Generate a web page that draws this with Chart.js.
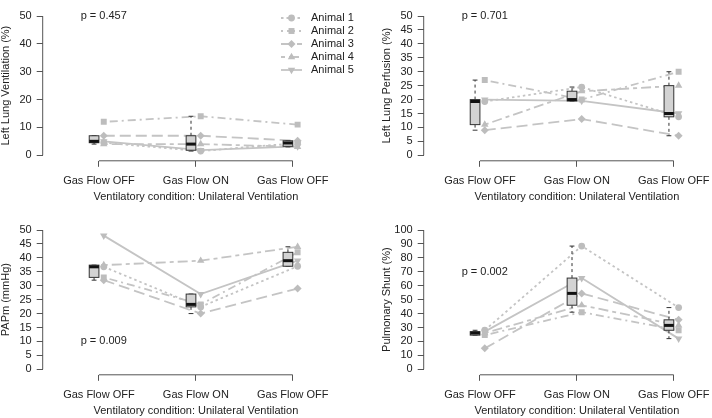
<!DOCTYPE html>
<html>
<head>
<meta charset="utf-8">
<script src="https://cdn.jsdelivr.net/npm/chart.js@4.4.0/dist/chart.umd.min.js"></script>
<style>
  html, body { margin: 0; padding: 0; background: #fff; }
  #wrap { position: relative; width: 712px; height: 418px; overflow: hidden; }
  .panel { position: absolute; width: 370px; height: 214px; }
</style>
</head>
<body>
<div id="wrap">
  <div class="panel" style="left:0;top:0"><canvas id="c1" width="370" height="214"></canvas></div>
  <div class="panel" style="left:381px;top:0"><canvas id="c2" width="370" height="214"></canvas></div>
  <div class="panel" style="left:0;top:214px"><canvas id="c3" width="370" height="214"></canvas></div>
  <div class="panel" style="left:381px;top:214px"><canvas id="c4" width="370" height="214"></canvas></div>
</div>
<script>
// conditions on the x axis and the animals (one line each)
const categories = ['Gas Flow OFF', 'Gas Flow ON', 'Gas Flow OFF'];
const animals = ['Animal 1', 'Animal 2', 'Animal 3', 'Animal 4', 'Animal 5'];

// one row per animal, one value per condition
const ventilation = [[4.5, 1.5, 4.4], [12, 14, 11], [7, 7, 5.2], [4, 4, 3], [5, 1.8, 3.2]];
const perfusion = [[19.3, 24.5, 13.8], [27, 20, 30], [9, 13, 7], [11, 23, 25], [20, 19.5, 15]];
const papm = [[36.8, 22.4, 37], [33, 23.3, 42], [32, 20, 29], [37.4, 39, 44], [48, 27, 39]];
const shunt = [[28, 88.5, 44.3], [24.5, 41, 28], [15, 54.5, 35.5], [26, 46, 31.5], [27, 65.5, 22]];

// y tick labels
const ticks0to50by10 = [0, 10, 20, 30, 40, 50];
const ticks0to50by5 = [0, 5, 10, 15, 20, 25, 30, 35, 40, 45, 50];
const ticks0to100by10 = [0, 10, 20, 30, 40, 50, 60, 70, 80, 90, 100];

const pValues = ['p = 0.457', 'p = 0.701', 'p = 0.009', 'p = 0.002'];

const FONT = "'Liberation Sans', Arial, Helvetica, sans-serif";
const txt = '#222';
const axisCol = '#555';
const lineGray = '#c4c4c4';
const pointGray = '#bdbdbd';

const styles = [
  { dash: [2.5, 3], point: 'circle', r: 3.4, rot: 0 },
  { dash: [2, 4, 8, 4], point: 'rect', r: 4.2, rot: 0 },
  { dash: [11, 5], point: 'rectRot', r: 4, rot: 0 },
  { dash: [4, 4, 10, 4], point: 'triangle', r: 4.3, rot: 0 },
  { dash: [], point: 'triangle', r: 4.3, rot: 180 }
];

// tukey hinges + whiskers like R's boxplot
function boxStats(vals) {
  const s = vals.slice().sort((a, b) => a - b);
  const n = s.length;
  const n4 = Math.floor((n + 3) / 2) / 2;
  const d = [1, n4, (n + 1) / 2, n + 1 - n4, n];
  const f = d.map(k => 0.5 * (s[Math.floor(k) - 1] + s[Math.ceil(k) - 1]));
  const iqr = f[3] - f[1];
  const lo = s.filter(v => v >= f[1] - 1.5 * iqr)[0];
  const inHi = s.filter(v => v <= f[3] + 1.5 * iqr);
  return { lo: lo, q1: f[1], med: f[2], q3: f[3], hi: inHi[inHi.length - 1] };
}

function seg(ctx, x1, y1, x2, y2) {
  ctx.beginPath(); ctx.moveTo(x1, y1); ctx.lineTo(x2, y2); ctx.stroke();
}

function makePlugin(values, pText, pY, showLegend) {
  return {
    id: 'rstyle',
    afterDatasetsDraw(chart) {
      const { ctx, scales: { x, y } } = chart;
      ctx.save();
      for (let j = 0; j < categories.length; j++) {
        const st = boxStats(values.map(v => v[j]));
        const c = j + 1 - 0.05;
        const xl = x.getPixelForValue(c - 0.05), xr = x.getPixelForValue(c + 0.05);
        const xc = x.getPixelForValue(c);
        const sl = x.getPixelForValue(c - 0.025), sr = x.getPixelForValue(c + 0.025);
        const yq1 = y.getPixelForValue(st.q1), yq3 = y.getPixelForValue(st.q3);
        const ylo = y.getPixelForValue(st.lo), yhi = y.getPixelForValue(st.hi);
        const ymed = y.getPixelForValue(st.med);
        ctx.strokeStyle = '#333';
        ctx.lineWidth = 1;
        ctx.setLineDash([3, 3]);
        seg(ctx, xc, yq3, xc, yhi);
        seg(ctx, xc, yq1, xc, ylo);
        ctx.setLineDash([]);
        seg(ctx, sl, yhi, sr, yhi);
        seg(ctx, sl, ylo, sr, ylo);
        ctx.fillStyle = '#d3d3d3';
        ctx.fillRect(xl, yq3, xr - xl, yq1 - yq3);
        ctx.strokeRect(xl, yq3, xr - xl, yq1 - yq3);
        ctx.strokeStyle = '#111';
        ctx.lineWidth = 3;
        seg(ctx, xl, ymed, xr, ymed);
      }
      ctx.restore();
    },
    afterDraw(chart) {
      const { ctx, chartArea, scales: { x, y } } = chart;
      ctx.save();
      // R style axis lines, only between first and last tick
      ctx.strokeStyle = axisCol;
      ctx.lineWidth = 1;
      const yt = y.ticks;
      seg(ctx, chartArea.left, y.getPixelForValue(yt[0].value), chartArea.left, y.getPixelForValue(yt[yt.length - 1].value));
      seg(ctx, x.getPixelForValue(1), chartArea.bottom, x.getPixelForValue(categories.length), chartArea.bottom);

      ctx.fillStyle = txt;
      ctx.font = '11px ' + FONT;
      ctx.textAlign = 'center';
      ctx.textBaseline = 'middle';
      ctx.fillText(pText, x.getPixelForValue(1.05), y.getPixelForValue(pY));

      if (showLegend) {
        chart.data.datasets.forEach((ds, i) => {
          const ly = 18 + 13 * i;
          ctx.strokeStyle = lineGray;
          ctx.lineWidth = 1.8;
          ctx.setLineDash(ds.borderDash);
          seg(ctx, 281, ly, 302, ly);
          ctx.setLineDash([]);
          ctx.fillStyle = pointGray;
          Chart.helpers.drawPoint(ctx, { pointStyle: ds.pointStyle, rotation: ds.pointRotation, radius: ds.pointRadius, borderWidth: 0 }, 291.5, ly);
          ctx.fillStyle = txt;
          ctx.textAlign = 'left';
          ctx.fillText(ds.label, 311, ly);
        });
      }
      ctx.restore();
    }
  };
}

function makePanel(id, values, yTitle, yTicks, yMax, pText, pY, showLegend) {
  const pad = yMax * 0.04;
  const font = { family: FONT, size: 11, lineHeight: 1 };
  const grid = { drawOnChartArea: false, drawTicks: true, tickLength: 6, color: axisCol, lineWidth: 1 };
  const datasets = values.map((vals, i) => ({
    label: animals[i],
    data: vals.map((v, j) => ({ x: j + 1 + 0.05, y: v })),
    showLine: true,
    borderColor: lineGray,
    borderWidth: 1.8,
    borderDash: styles[i].dash,
    pointStyle: styles[i].point,
    pointRadius: styles[i].r,
    pointHoverRadius: styles[i].r,
    pointRotation: styles[i].rot,
    pointBackgroundColor: pointGray,
    pointBorderColor: pointGray,
    pointBorderWidth: 0
  }));

  new Chart(document.getElementById(id), {
    type: 'scatter',
    data: { datasets: datasets },
    options: {
      responsive: false,
      animation: false,
      events: [],
      layout: { padding: { top: 5.2, right: 21, left: 0, bottom: 0 } },
      plugins: { legend: { display: false }, tooltip: { enabled: false } },
      scales: {
        x: {
          type: 'linear', min: 0.42, max: 3.58,
          afterFit: s => { s.height = 53.2; },
          afterBuildTicks: s => { s.ticks = categories.map((c, i) => ({ value: i + 1 })); },
          ticks: { autoSkip: false, maxRotation: 0, padding: 9, color: txt, font: font,
                   callback: v => categories[Math.round(v) - 1] },
          grid: grid,
          border: { display: false },
          title: { display: true, text: 'Ventilatory condition: Unilateral Ventilation', color: txt, font: font,
                   padding: { top: 0, bottom: 11.8 } }
        },
        y: {
          type: 'linear', min: -pad, max: yMax + pad,
          afterFit: s => { s.width = 42.7; },
          afterBuildTicks: s => { s.ticks = yTicks.map(v => ({ value: v })); },
          ticks: { autoSkip: false, padding: 5, color: txt, font: font },
          grid: grid,
          border: { display: false },
          title: { display: true, text: yTitle, color: txt, font: font, padding: { top: 0, bottom: 0 } }
        }
      }
    },
    plugins: [makePlugin(values, pText, pY, showLegend)]
  });
}

makePanel('c1', ventilation, 'Left Lung Ventilation (%)', ticks0to50by10, 50, pValues[0], 50, true);
makePanel('c2', perfusion, 'Left Lung Perfusion (%)', ticks0to50by5, 50, pValues[1], 50, false);
makePanel('c3', papm, 'PAPm (mmHg)', ticks0to50by5, 50, pValues[2], 10, false);
makePanel('c4', shunt, 'Pulmonary Shunt (%)', ticks0to100by10, 100, pValues[3], 70, false);
</script>
</body>
</html>
